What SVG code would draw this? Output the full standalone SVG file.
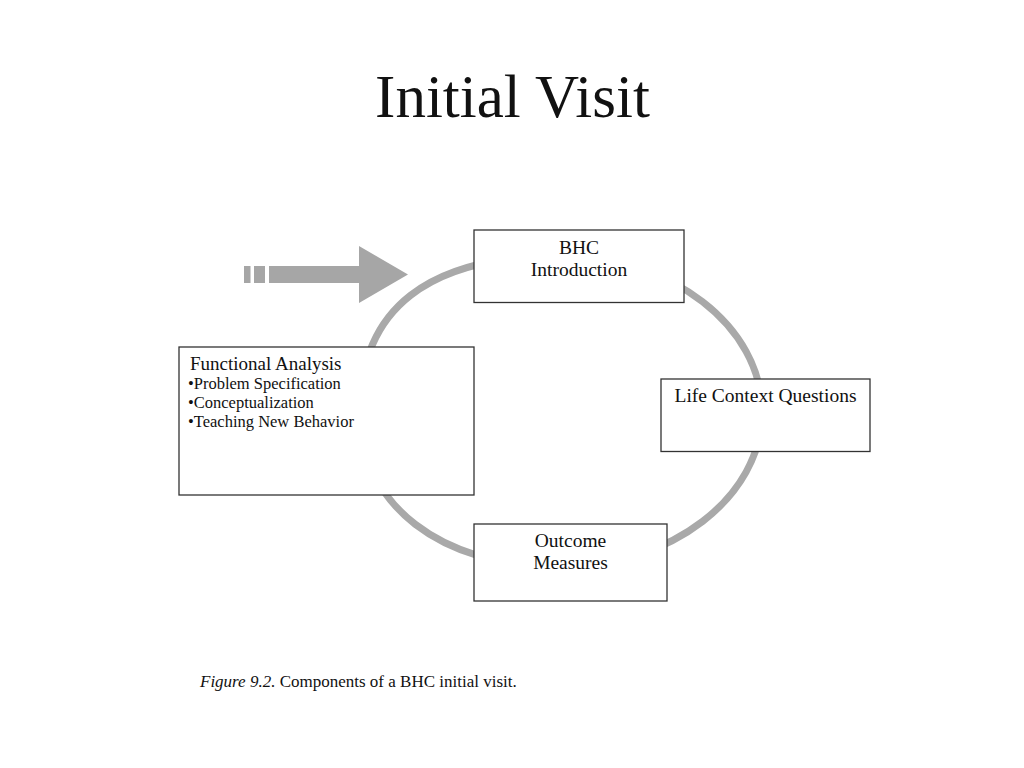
<svg xmlns="http://www.w3.org/2000/svg" width="1024" height="768" viewBox="0 0 1024 768">
  <style>
    .box { fill: #ffffff; stroke: #333333; stroke-width: 1.3; }
    .txt { font-family: "Liberation Serif", "Times New Roman", serif; fill: #111111; }
    .lbl { font-size: 19.5px; text-anchor: middle; }
    .ring { fill: none; stroke: #a9a9a9; stroke-width: 7; }
    .arrow { fill: #a6a6a6; }
  </style>
  <rect width="1024" height="768" fill="#ffffff"/>
  <text class="txt" x="512.5" y="117" font-size="61" text-anchor="middle">Initial Visit</text>

  <g id="connectors">
    <path id="cycle-ring" class="ring" d="M 360 412 C 360 309, 428 256, 560 256 C 671 256, 762 326, 762 412 C 762 497, 671 567, 560 567 C 441 567, 360 505, 360 412 Z"/>
    <g id="entry-arrow">
      <rect class="arrow" x="244" y="266" width="6.5" height="17"/>
      <rect class="arrow" x="254" y="266" width="11" height="17"/>
      <path class="arrow" d="M 269 266 H 359 V 246 L 408 274.5 L 359 303 V 283 H 269 Z"/>
    </g>
  </g>

  <g id="node-bhc-introduction">
    <rect class="box" x="474" y="230" width="210" height="72.5"/>
    <text class="txt lbl" x="579" y="254">BHC</text>
    <text class="txt lbl" x="579" y="276">Introduction</text>
  </g>

  <g id="node-life-context">
    <rect class="box" x="661" y="379" width="209" height="72.5"/>
    <text class="txt lbl" x="765.5" y="402" font-size="19.8">Life Context Questions</text>
  </g>

  <g id="node-outcome-measures">
    <rect class="box" x="474" y="524" width="193" height="77"/>
    <text class="txt lbl" x="570.5" y="547">Outcome</text>
    <text class="txt lbl" x="570.5" y="569">Measures</text>
  </g>

  <g id="node-functional-analysis">
    <rect class="box" x="179" y="347" width="295" height="148"/>
    <text class="txt" x="190" y="370" font-size="19">Functional Analysis</text>
    <text class="txt" x="188" y="389" font-size="16.5">•Problem Specification</text>
    <text class="txt" x="188" y="408" font-size="16.5">•Conceptualization</text>
    <text class="txt" x="188" y="427" font-size="16.5">•Teaching New Behavior</text>
  </g>

  <text class="txt" x="200" y="687" font-size="17"><tspan font-style="italic">Figure 9.2.</tspan> Components of a BHC initial visit.</text>
</svg>
